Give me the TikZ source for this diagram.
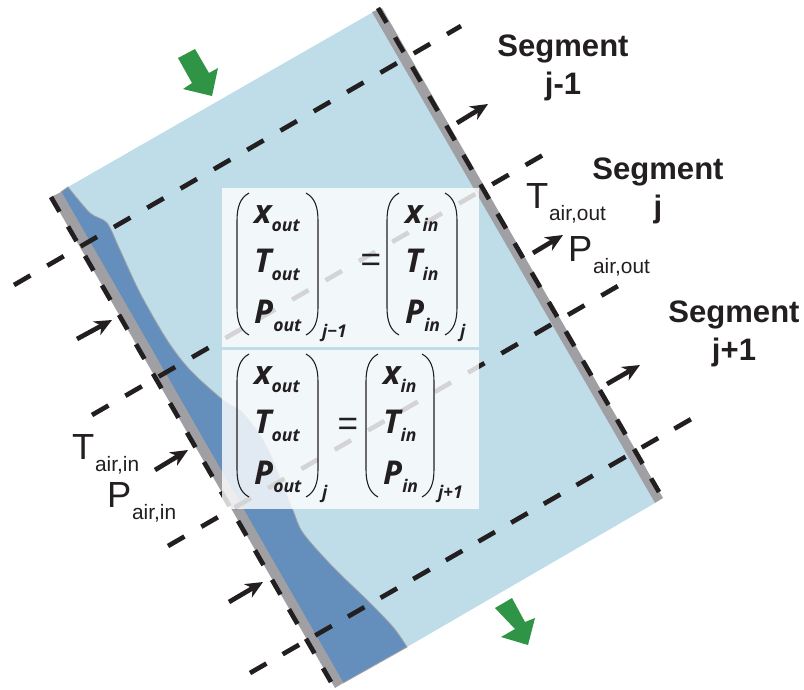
\documentclass[tikz,border=0pt]{standalone}
\usepackage{fontspec}
\setmainfont{Liberation Sans}
\newfontfamily\eqfont{Open Sans}
\usepackage{tikz}
\usetikzlibrary{arrows.meta,positioning}
\definecolor{tubeblue}{HTML}{BFDDE9}
\definecolor{filmblue}{HTML}{648FBC}
\definecolor{wallgray}{HTML}{A0A0A4}
\definecolor{flowgreen}{HTML}{2F9445}
\definecolor{inkblack}{HTML}{231F20}
\newcommand{\eqv}[2]{#1\raisebox{-2.4mm}{\fontsize{15}{15}\selectfont #2}}
\newcommand{\airv}[2]{#1\kern0.2mm\raisebox{-3.7mm}{\fontsize{17.8}{18}\selectfont #2}}
\newcommand{\lparen}[3]{\draw[brak] (#1+12,#2) .. controls (#1+3,#2+5) and (#1,#2+14) .. (#1,#2+28) -- (#1,#3-28) .. controls (#1,#3-14) and (#1+3,#3-5) .. (#1+12,#3);}
\newcommand{\rparen}[3]{\draw[brak] (#1-12,#2) .. controls (#1-3,#2+5) and (#1,#2+14) .. (#1,#2+28) -- (#1,#3-28) .. controls (#1,#3-14) and (#1-3,#3-5) .. (#1-12,#3);}
\tikzset{
  cutline/.style={draw=inkblack, line width=1.4mm, dash pattern=on 5.7mm off 5.85mm},
  wallcut/.style={draw=inkblack, line width=1.4mm, dash pattern=on 5.1mm off 5.1mm},
  flow/.style={-{Stealth[length=5.2mm,width=4.6mm,inset=1.6mm]}, draw=inkblack, line width=1.4mm},
  eqbox/.style={fill=white, fill opacity=0.81, minimum width=77.1mm, minimum height=47.7mm, inner sep=0pt},
  eqvar/.style={anchor=base west, inner sep=0pt, text=inkblack, font=\eqfont\bfseries\itshape\fontsize{28}{28}\selectfont},
  eqsub/.style={anchor=base west, inner sep=0pt, text=inkblack, font=\eqfont\bfseries\itshape\fontsize{15}{15}\selectfont},
  eqsign/.style={inner sep=0pt, text=inkblack, font=\fontsize{30}{30}\selectfont},
  brak/.style={draw=inkblack, line width=0.33mm},
  seglbl/.style={align=center, inner sep=0pt, text=inkblack, font=\bfseries\fontsize{26.5}{32.4}\selectfont},
  airlbl/.style={anchor=base west, inner sep=0pt, text=inkblack, font=\fontsize{31}{31}\selectfont},
  greenarrow/.style={fill=flowgreen}
}
\begin{document}
\begin{tikzpicture}[x=0.3mm, y=-0.3mm]
  \useasboundingbox (0,0) rectangle (804,689);
  % channel, liquid film and walls
  \fill[tubeblue] (61,192) -- (68,187) -- (375,11) -- (655,503) -- (407,647) -- (343,683) -- cycle;
  \filldraw[fill=filmblue, draw=wallgray, line width=0.25mm] (61,192) -- plot[smooth] coordinates {(68,187) (90,213) (107,223) (120,250) (140,293) (167,340) (190,370) (223,400) (243,413) (267,447) (292,508) (303,533) (333,567) (367,600) (393,627) (407,647)} -- (343,683) -- cycle;
  \fill[wallgray] (51,197) -- (61,192) -- (343,683) -- (335,688) -- cycle;
  \fill[wallgray] (372,12) -- (382,8) -- (663,498) -- (655,503) -- cycle;
  % segment borders and walls
  \coordinate (cutAa) at (14,285);  \coordinate (cutAb) at (461,26);
  \coordinate (cutBa) at (92,415);  \coordinate (cutBb) at (543,155);
  \coordinate (cutCa) at (168,546); \coordinate (cutCb) at (618,286);
  \coordinate (cutDa) at (250,673); \coordinate (cutDb) at (693,418);
  \coordinate (wallLa) at (51,197); \coordinate (wallLb) at (331,682);
  \coordinate (wallRa) at (378,8);  \coordinate (wallRb) at (659,492);
  \draw[cutline] (cutAa)--(cutAb);
  \draw[cutline] (cutBa)--(cutBb);
  \draw[cutline] (cutCa)--(cutCb);
  \draw[cutline, dash pattern=on 5.7mm off 5.6mm] (cutDa)--(cutDb);
  \draw[wallcut] (wallLa)--(wallLb);
  \draw[wallcut] (wallRa)--(wallRb);
  % air arrows
  \coordinate (airA0) at (77,339);   \coordinate (airA1) at (112,320);
  \coordinate (airB0) at (155,470);  \coordinate (airB1) at (188,450);
  \coordinate (airC0) at (229,602);  \coordinate (airC1) at (263,582);
  \coordinate (airD0) at (457,123);  \coordinate (airD1) at (488,104);
  \coordinate (airE0) at (533,253);  \coordinate (airE1) at (563,235);
  \coordinate (airF0) at (607,384);  \coordinate (airF1) at (640,365);
  \draw[flow](airA0)--(airA1); \draw[flow](airB0)--(airB1); \draw[flow](airC0)--(airC1);
  \draw[flow](airD0)--(airD1); \draw[flow](airE0)--(airE1); \draw[flow](airF0)--(airF1);
  % green liquid arrows
  \fill[greenarrow] (178,58) -- (195,49) -- (209,73) -- (218,68) -- (212,96) -- (183,89) -- (192,83) -- cycle;
  \fill[greenarrow] (495,608) -- (512,598) -- (525,622) -- (535,618) -- (528,645) -- (501,637) -- (515,629) -- cycle;
  % interface conditions
  \node[eqbox] (boxA) at (350.5,267.5) {};
  \node[eqbox] (boxB) at (350.5,429.5) {};
  \node[eqvar] (xoutA) at (254,223) {\eqv{x}{out}};
  \node[eqvar] (toutA) at (254,272) {\eqv{T}{out}};
  \node[eqvar] (poutA) at (254,323) {\eqv{P}{out}};
  \lparen{237}{193}{335}
  \rparen{318}{193}{335}
  \node[eqsub] (jA) at (322,337) {j−1};
  \node[eqsign] (eqA) at (371,263) {=};
  \lparen{387}{193}{335}
  \rparen{457}{193}{335}
  \node[eqvar] (xinA) at (405,223) {\eqv{x}{in}};
  \node[eqvar] (tinA) at (405,272) {\eqv{T}{in}};
  \node[eqvar] (pinA) at (405,323) {\eqv{P}{in}};
  \node[eqsub] (jB) at (460,337) {j};
  \node[eqvar] (xoutB) at (254,384) {\eqv{x}{out}};
  \node[eqvar] (toutB) at (254,433) {\eqv{T}{out}};
  \node[eqvar] (poutB) at (254,484) {\eqv{P}{out}};
  \lparen{237}{354}{497}
  \rparen{318}{354}{497}
  \node[eqsub] (jC) at (322,498) {j};
  \node[eqsign] (eqB) at (348,427) {=};
  \lparen{366}{354}{497}
  \rparen{434}{354}{497}
  \node[eqvar] (xinB) at (383,384) {\eqv{x}{in}};
  \node[eqvar] (tinB) at (383,433) {\eqv{T}{in}};
  \node[eqvar] (pinB) at (383,484) {\eqv{P}{in}};
  \node[eqsub] (jD) at (438,498) {j+1};
  % labels
  \node[seglbl] (segA) at (563,68) {Segment\\j-1};
  \node[seglbl] (segB) at (658,191) {Segment\\j};
  \node[seglbl] (segC) at (734,334) {Segment\\j+1};
  \node[airlbl] (tairout) at (526,208) {\airv{T}{air,out}};
  \node[airlbl] (pairout) at (568,261) {\airv{P}{air,out}};
  \node[airlbl] (tairin) at (72,459) {\airv{T}{air,in}};
  \node[airlbl] (pairin) at (107,507) {\airv{P}{air,in}};
\end{tikzpicture}
\end{document}
